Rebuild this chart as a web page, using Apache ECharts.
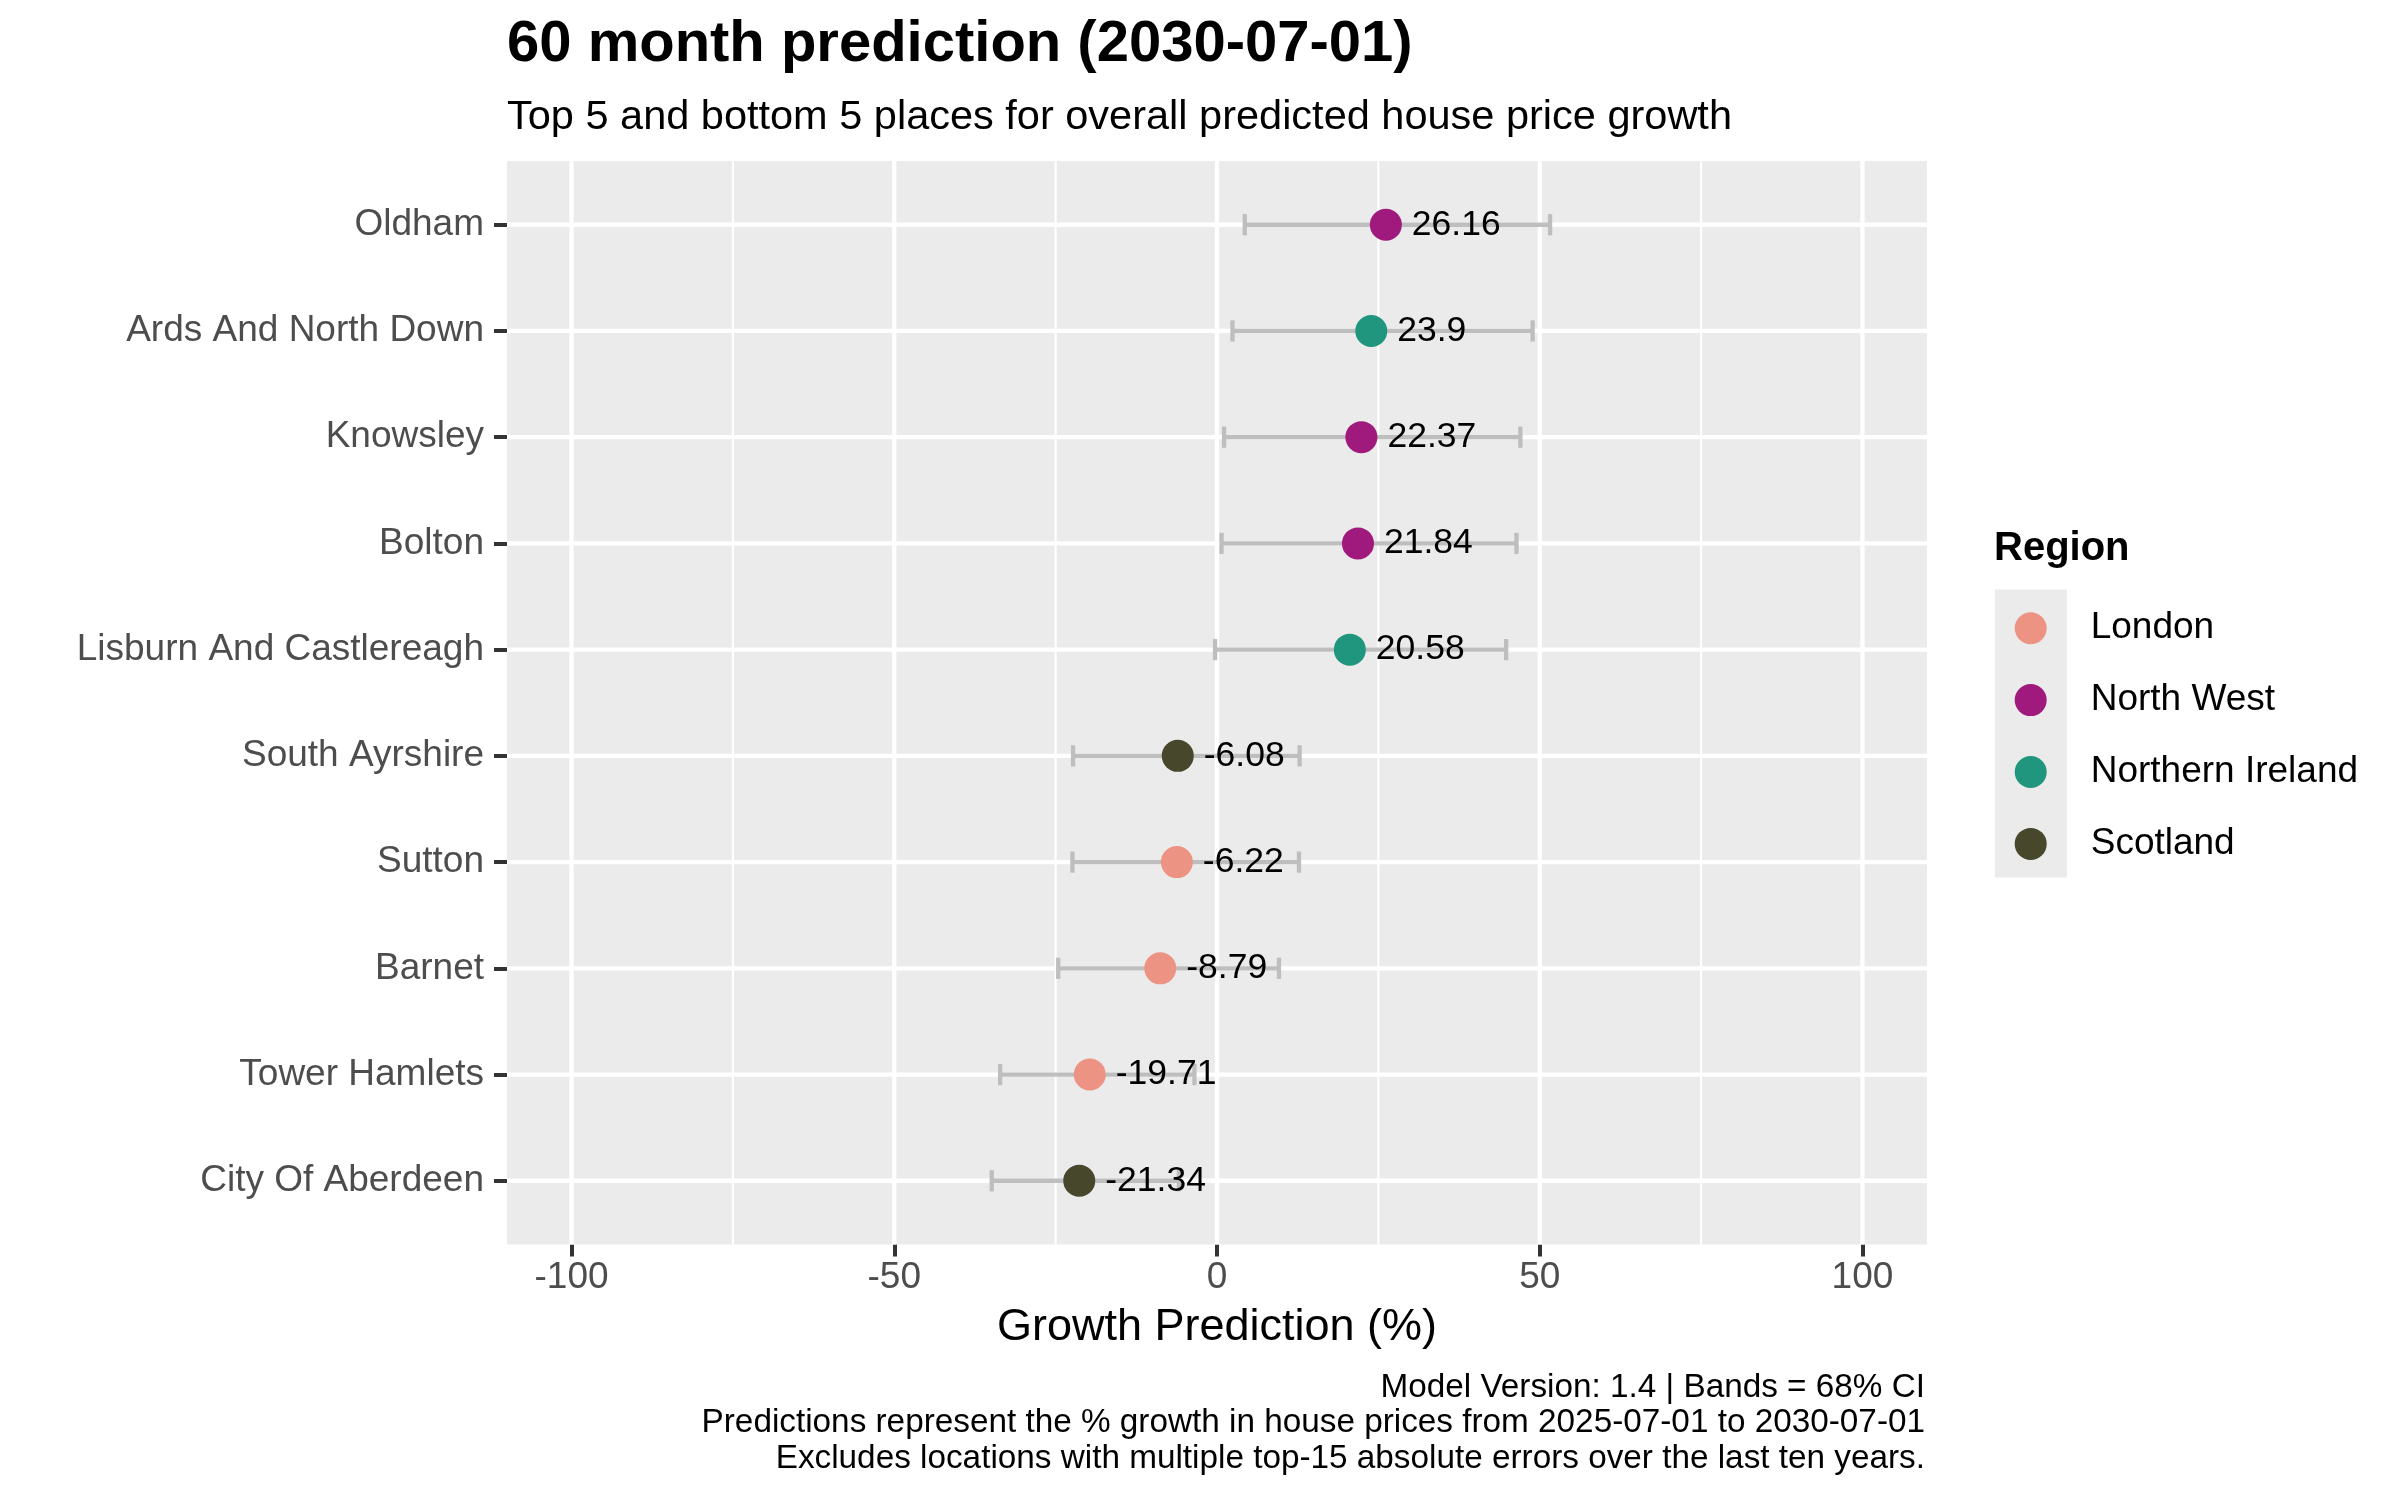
<!DOCTYPE html>
<html>
<head>
    <meta charset="utf-8">
    <title>60 month prediction</title>
    <script src="https://cdn.jsdelivr.net/npm/echarts@6/dist/echarts.min.js"></script>
    <style>
        html, body { margin: 0; padding: 0; background: #fff; }
        #main { width: 2400px; height: 1500px; }
    </style>
</head>
<body>
<div id="main"></div>
<script type="text/javascript">
    // data (top to bottom)
    var places = ['Oldham', 'Ards And North Down', 'Knowsley', 'Bolton', 'Lisburn And Castlereagh',
        'South Ayrshire', 'Sutton', 'Barnet', 'Tower Hamlets', 'City Of Aberdeen'];
    var regionOf = ['North West', 'Northern Ireland', 'North West', 'North West', 'Northern Ireland',
        'Scotland', 'London', 'London', 'London', 'Scotland'];
    var growth = [26.16, 23.9, 22.37, 21.84, 20.58, -6.08, -6.22, -8.79, -19.71, -21.34];
    var lower = [4.3, 2.4, 1.1, 0.7, -0.3, -22.3, -22.4, -24.6, -33.6, -34.9];
    var upper = [51.6, 48.9, 47.0, 46.4, 44.8, 12.8, 12.7, 9.6, -3.5, -5.9];

    var regions = ['London', 'North West', 'Northern Ireland', 'Scotland'];
    var regionColors = ['#EC9384', '#A01A7D', '#21967F', '#47472C'];

    var xTicks = [-100, -50, 0, 50, 100];
    var xMinorGrid = [-75, -25, 25, 75];

    var captionLines = [
        'Model Version: 1.4 | Bands = 68% CI',
        'Predictions represent the % growth in house prices from 2025-07-01 to 2030-07-01',
        'Excludes locations with multiple top-15 absolute errors over the last ten years.'
    ];

    var X_MIN = -110, X_MAX = 110;
    var Y_MIN = -0.6, Y_MAX = 9.6;
    var FONT = 'Liberation Sans';

    var rows = places.map(function (p, i) { return i; });

    var myChart = echarts.init(document.getElementById('main'), null, {renderer: 'canvas'});

    // vertical white grid lines (1 = major, 0 = minor)
    var vGridData = xTicks.map(function (v) { return [v, 1]; })
        .concat(xMinorGrid.map(function (v) { return [v, 0]; }));

    var series = [
        {
            name: 'gridV',
            type: 'custom',
            silent: true,
            data: vGridData,
            encode: {x: 0},
            renderItem: function (params, api) {
                var v = api.value(0);
                var a = api.coord([v, Y_MIN]);
                var b = api.coord([v, Y_MAX]);
                return {
                    type: 'line',
                    shape: {x1: a[0], y1: a[1], x2: b[0], y2: b[1]},
                    style: {stroke: '#FFFFFF', lineWidth: api.value(1) ? 4.3 : 2.1}
                };
            }
        },
        {
            name: 'gridH',
            type: 'custom',
            silent: true,
            data: rows.map(function (r) { return [r]; }),
            encode: {y: 0},
            renderItem: function (params, api) {
                var r = api.value(0);
                var a = api.coord([X_MIN, r]);
                var b = api.coord([X_MAX, r]);
                return {
                    type: 'line',
                    shape: {x1: a[0], y1: a[1], x2: b[0], y2: b[1]},
                    style: {stroke: '#FFFFFF', lineWidth: 4.3}
                };
            }
        },
        {
            name: 'bands',
            type: 'custom',
            silent: true,
            data: rows.map(function (r) { return [r, lower[r], upper[r]]; }),
            encode: {y: 0, x: [1, 2]},
            renderItem: function (params, api) {
                var r = api.value(0);
                var a = api.coord([api.value(1), r]);
                var b = api.coord([api.value(2), r]);
                var h = 10.6;
                var st = {stroke: '#BEBEBE', lineWidth: 4.3};
                return {
                    type: 'group',
                    children: [
                        {type: 'line', shape: {x1: a[0], y1: a[1], x2: b[0], y2: b[1]}, style: st},
                        {type: 'line', shape: {x1: a[0], y1: a[1] - h, x2: a[0], y2: a[1] + h}, style: st},
                        {type: 'line', shape: {x1: b[0], y1: b[1] - h, x2: b[0], y2: b[1] + h}, style: st}
                    ]
                };
            }
        }
    ];

    regions.forEach(function (reg, k) {
        var pts = [];
        rows.forEach(function (i) {
            if (regionOf[i] === reg) pts.push([growth[i], i]);
        });
        series.push({
            name: reg,
            type: 'scatter',
            data: pts,
            symbol: 'circle',
            symbolSize: 32,
            itemStyle: {color: regionColors[k], opacity: 1},
            label: {
                show: true,
                position: 'right',
                distance: 10,
                formatter: function (p) { return String(p.value[0]); },
                color: '#000000',
                fontFamily: FONT,
                fontSize: 35.5,
                lineHeight: 35.5
            },
            emphasis: {disabled: true}
        });
    });

    var option = {
        backgroundColor: '#FFFFFF',
        animation: false,
        textStyle: {fontFamily: FONT},
        title: [
            {
                text: '60 month prediction (2030-07-01)',
                left: 507, top: 16, padding: 0,
                textStyle: {fontFamily: FONT, fontSize: 58, fontWeight: 'bold', color: '#000', lineHeight: 58}
            },
            {
                text: 'Top 5 and bottom 5 places for overall predicted house price growth',
                left: 507, top: 97, padding: 0,
                textStyle: {fontFamily: FONT, fontSize: 41.5, fontWeight: 'normal', color: '#000', lineHeight: 41.5}
            },
            {
                text: 'Region',
                left: 1994, top: 529, padding: 0,
                textStyle: {fontFamily: FONT, fontSize: 40, fontWeight: 'bold', color: '#000', lineHeight: 40}
            }
        ],
        legend: {
            data: regions,
            orient: 'vertical',
            align: 'left',
            left: 2014.7,
            top: 609.7,
            padding: 0,
            icon: 'circle',
            itemWidth: 110,
            itemHeight: 32,
            itemGap: 34.9,
            selectedMode: false,
            textStyle: {fontFamily: FONT, fontSize: 37, color: '#000'}
        },
        graphic: [
            {
                type: 'rect',
                left: 1995, top: 589.5, z: 0, silent: true,
                shape: {width: 72, height: 288},
                style: {fill: '#EBEBEB'}
            },
            {
                type: 'text',
                x: 1925, y: 1370, silent: true,
                style: {
                    text: captionLines.join('\n'),
                    align: 'right', verticalAlign: 'top',
                    fontFamily: FONT, fontSize: 33.3, lineHeight: 35.5, fill: '#000'
                }
            }
        ],
        grid: {
            left: 507, right: 473, top: 161, bottom: 255.5,
            show: true, backgroundColor: '#EBEBEB', borderWidth: 0,
            containLabel: false
        },
        xAxis: {
            type: 'value',
            min: X_MIN, max: X_MAX,
            name: 'Growth Prediction (%)',
            nameLocation: 'middle',
            nameGap: 61,
            nameTextStyle: {fontFamily: FONT, fontSize: 45, color: '#000', lineHeight: 45},
            axisLine: {show: false, onZero: false},
            axisTick: {show: true, customValues: xTicks, length: 12, lineStyle: {color: '#333333', width: 4}},
            axisLabel: {
                customValues: xTicks,
                margin: 15,
                fontFamily: FONT, fontSize: 37, color: '#4D4D4D', lineHeight: 37
            },
            splitLine: {show: false}
        },
        yAxis: {
            type: 'value',
            inverse: true,
            min: Y_MIN, max: Y_MAX,
            axisLine: {show: false, onZero: false},
            axisTick: {show: true, customValues: rows, length: 13, lineStyle: {color: '#333333', width: 4}},
            axisLabel: {
                customValues: rows,
                margin: 23,
                formatter: function (v) { return places[Math.round(v)]; },
                fontFamily: FONT, fontSize: 37, color: '#4D4D4D', lineHeight: 37
            },
            splitLine: {show: false}
        },
        series: series
    };

    myChart.setOption(option);
</script>
</body>
</html>
